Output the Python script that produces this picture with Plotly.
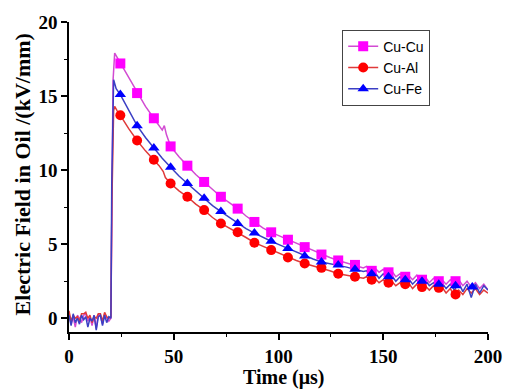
import plotly.graph_objects as go

# ---------------- data ----------------
pre_t = [0, 1, 2, 3, 4, 5, 6, 7, 8, 9, 10, 11, 12, 13, 14, 15, 16, 17, 18, 19]
cucu_pre = [0.3, -0.4, 0.1, -0.6, 0.2, 0.0, -0.3, 0.2, 0.3, -0.2, 0.1, -0.5, 0.2, -0.7, 0.3, 0.1, -0.4, 0.3, 0.0, -0.2]
cual_pre = [0.5, -0.2, 0.2, 0.0, 0.1, -0.2, 0.3, 0.3, 0.4, 0.0, 0.2, -0.3, 0.1, 0.0, 0.3, 0.3, -0.2, 0.4, 0.1, 0.0]
cufe_pre = [0.2, -0.5, 0.3, -0.3, 0.0, -0.4, 0.2, -0.1, 0.1, -0.6, 0.0, -0.2, 0.2, -0.8, 0.1, 0.2, -0.5, 0.2, -0.3, 0.1]

cucu_t = [20.0, 20.4, 21.0, 21.8, 23.0, 24.5, 28.5, 32.5, 36.5, 40.5, 43.0, 44.5, 45.5, 46.5, 48.5, 52.5, 56.5,
          60.5, 64.5, 68.5, 72.5, 76.5, 80.5, 84.5, 88.5, 92.5, 96.5, 100.5, 104.5, 108.5, 112.5, 116.5,
          120.5, 124.5, 128.5, 132.5, 136.5, 140.5, 142, 144, 146, 148, 150, 152, 154, 156, 158, 160, 162,
          164, 166, 168, 170, 172, 174, 176, 178, 180, 182, 184, 186, 188, 190, 192, 194, 196, 198, 200]
cucu_v = [0.0, 6.0, 16.0, 17.9, 17.6, 17.2, 16.2, 15.2, 14.3, 13.5, 13.0, 12.7, 13.0, 12.4, 11.6, 10.9, 10.3,
          9.7, 9.2, 8.7, 8.2, 7.8, 7.4, 6.9, 6.5, 6.1, 5.8, 5.55, 5.3, 5.05, 4.8, 4.55,
          4.3, 4.1, 3.9, 3.75, 3.6, 3.4, 3.5, 3.2, 3.4, 3.1, 3.3, 3.0, 3.2, 2.8, 3.0, 2.7, 2.9,
          2.6, 2.9, 2.5, 2.8, 2.4, 2.7, 2.4, 2.6, 2.3, 2.6, 2.4, 2.6, 2.2, 2.5, 2.1, 2.4, 2.0, 2.3, 1.9]

cual_t = [20.0, 20.5, 21.3, 21.8, 23.0, 24.5, 28.5, 32.5, 36.5, 40.5, 43.0, 45.0, 46.0, 48.5, 52.5, 56.5,
          60.5, 64.5, 68.5, 72.5, 76.5, 80.5, 84.5, 88.5, 92.5, 96.5, 100.5, 104.5, 108.5, 112.5, 116.5,
          120.5, 124.5, 128.5, 132.5, 136.5, 140.5, 142, 144, 146, 148, 150, 152, 154, 156, 158, 160, 162,
          164, 166, 168, 170, 172, 174, 176, 178, 180, 182, 184, 186, 188, 190, 192, 194, 196, 198, 200]
cual_v = [0.1, 8.0, 14.0, 14.3, 14.0, 13.7, 12.8, 12.0, 11.3, 10.7, 10.3, 9.9, 9.5, 9.1, 8.6, 8.2,
          7.7, 7.3, 6.8, 6.4, 6.1, 5.8, 5.45, 5.1, 4.85, 4.6, 4.35, 4.1, 3.9, 3.7, 3.55,
          3.4, 3.2, 3.0, 2.9, 2.8, 2.7, 2.8, 2.5, 2.7, 2.4, 2.6, 2.3, 2.5, 2.2, 2.4, 2.2, 2.4,
          2.0, 2.3, 2.0, 2.2, 1.9, 2.2, 1.9, 2.1, 1.7, 2.0, 1.5, 1.9, 1.6, 2.0, 1.7, 2.0, 1.6, 1.9, 1.7]

cufe_t = [20.0, 20.4, 21.3, 22.5, 24.5, 28.5, 32.5, 36.5, 40.5, 44.5, 48.5, 52.5, 56.5,
          60.5, 64.5, 68.5, 72.5, 76.5, 80.5, 84.5, 88.5, 92.5, 96.5, 100.5, 104.5, 108.5, 112.5, 116.5,
          120.5, 124.5, 128.5, 132.5, 136.5, 140.5, 142, 144, 146, 148, 150, 152, 154, 156, 158, 160, 162,
          164, 166, 168, 170, 172, 174, 176, 178, 180, 182, 184, 186, 188, 190, 192, 194, 196, 198, 200]
cufe_v = [0.0, 9.0, 16.1, 15.5, 15.1, 14.0, 13.0, 12.2, 11.5, 10.8, 10.2, 9.6, 9.1,
          8.6, 8.1, 7.6, 7.2, 6.8, 6.4, 6.05, 5.75, 5.45, 5.2, 4.95, 4.7, 4.45, 4.2, 4.0,
          3.8, 3.7, 3.6, 3.45, 3.3, 3.15, 3.2, 2.9, 3.1, 2.7, 3.0, 2.7, 2.9, 2.5, 2.8, 2.5, 2.7,
          2.3, 2.6, 2.3, 2.6, 2.2, 2.4, 2.1, 2.4, 2.0, 2.3, 1.9, 2.4, 1.8, 2.3, 1.4, 2.3, 1.7, 2.2, 1.9]

mk_t = [24.5, 32.5, 40.5, 48.5, 56.5, 64.5, 72.5, 80.5, 88.5, 96.5, 104.5, 112.5, 120.5, 128.5,
        136.5, 144.5, 152.5, 160.5, 168.5, 176.5, 184.5, 192.5]
cucu_mk = [17.2, 15.2, 13.5, 11.6, 10.3, 9.2, 8.2, 7.4, 6.5, 5.8, 5.3, 4.8, 4.3, 3.9, 3.6, 3.2, 3.1,
           2.8, 2.6, 2.5, 2.5]
cual_mk = [13.7, 12.0, 10.7, 9.1, 8.2, 7.3, 6.4, 5.8, 5.1, 4.6, 4.1, 3.7, 3.4, 3.0, 2.8, 2.6, 2.4,
           2.3, 2.1, 2.05, 1.6]
cufe_mk = [15.1, 13.0, 11.5, 10.2, 9.1, 8.1, 7.2, 6.4, 5.75, 5.2, 4.7, 4.2, 3.8, 3.6, 3.3, 3.0, 2.8,
           2.6, 2.5, 2.3, 2.2, 2.1]

x_ticks = [0, 50, 100, 150, 200]
y_ticks = [0, 5, 10, 15, 20]

series = [
    ("Cu-Cu", cucu_pre, cucu_t, cucu_v, cucu_mk, "#d24bd2", "#ff00ff", "square"),
    ("Cu-Al", cual_pre, cual_t, cual_v, cual_mk, "#e03a3a", "#ff0000", "circle"),
    ("Cu-Fe", cufe_pre, cufe_t, cufe_v, cufe_mk, "#3b3fc4", "#0000ff", "triangle-up"),
]

fig = go.Figure()
for name, pre, t, v, mk, lc, mc, sym in series:
    fig.add_trace(go.Scatter(x=pre_t + t, y=pre + v, mode="lines",
                             line=dict(color=lc, width=1.5), showlegend=False, hoverinfo="skip"))
for name, pre, t, v, mk, lc, mc, sym in series:
    fig.add_trace(go.Scatter(x=mk_t[:len(mk)], y=mk, mode="markers",
                             marker=dict(symbol=sym, color=mc, size=10, line=dict(width=0)),
                             showlegend=False))
for name, pre, t, v, mk, lc, mc, sym in series:
    fig.add_trace(go.Scatter(x=[None], y=[None], mode="lines+markers", name=name,
                             line=dict(color=lc, width=1.5),
                             marker=dict(symbol=sym, color=mc, size=10, line=dict(width=0))))

SERIF = "Liberation Serif"
axis_font = dict(family=SERIF, size=19, color="black", weight="bold")
fig.update_layout(
    width=514, height=392,
    margin=dict(l=69, r=23, t=16, b=60),
    paper_bgcolor="white", plot_bgcolor="white",
    legend=dict(x=0.652, y=0.975, xanchor="left", yanchor="top",
                bordercolor="#444", borderwidth=1, bgcolor="white",
                font=dict(family="Liberation Sans", size=14, color="black"),
                tracegroupgap=0, itemwidth=30),
    xaxis=dict(range=[0, 200], tickvals=x_ticks, showline=True, linecolor="black", linewidth=1.5,
               ticks="outside", ticklen=6, tickwidth=1.5, tickcolor="black",
               minor=dict(dtick=25, ticks="outside", ticklen=3, tickcolor="black", tickwidth=1),
               showgrid=False, zeroline=False, tickfont=axis_font),
    yaxis=dict(range=[-0.93, 20], tickvals=y_ticks, showline=True, linecolor="black", linewidth=1.5,
               ticks="outside", ticklen=6, tickwidth=1.5, tickcolor="black",
               minor=dict(dtick=2.5, ticks="outside", ticklen=3, tickcolor="black", tickwidth=1),
               showgrid=False, zeroline=False, tickfont=axis_font),
    annotations=[
        dict(text="Time (μs)", x=0.512, y=-0.146, xref="paper", yref="paper",
             xanchor="center", yanchor="middle", showarrow=False,
             font=dict(family=SERIF, size=20, color="black", weight="bold")),
        dict(text="Electric Field in Oil /(kV/mm)", x=-0.111, y=0.51, xref="paper", yref="paper",
             xanchor="center", yanchor="middle", textangle=-90, showarrow=False,
             font=dict(family=SERIF, size=22, color="black", weight="bold")),
    ],
)

fig.write_html("out.html")
